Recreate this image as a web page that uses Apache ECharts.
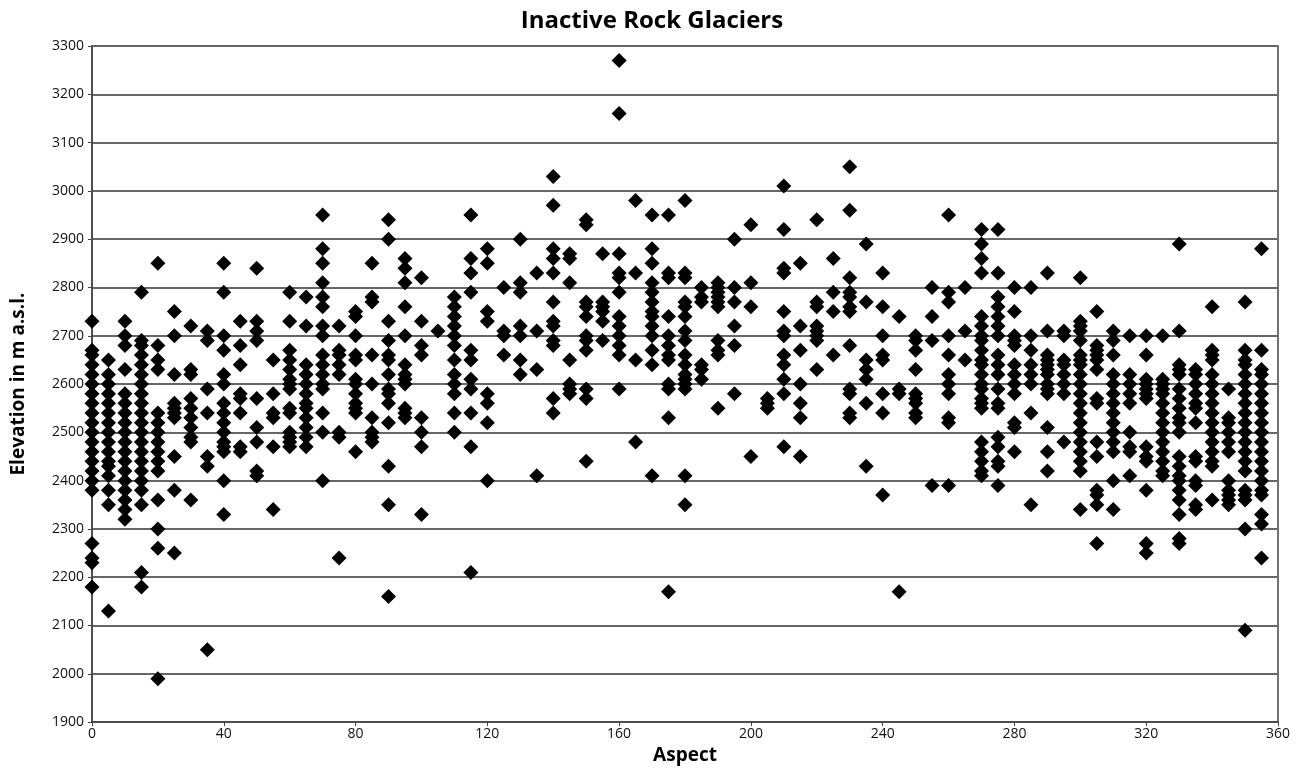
<!DOCTYPE html>
<html>
<head>
<meta charset="utf-8">
<script src="https://cdn.jsdelivr.net/npm/echarts@6/dist/echarts.min.js"></script>
<style>
  html, body { margin: 0; padding: 0; background: #fff; }
  #chart { width: 1304px; height: 770px; }
</style>
</head>
<body>
<div id="chart"></div>
<script>
const aspects = [0, 5, 10, 15, 20, 25, 30, 35, 40, 45, 50, 55, 60, 65, 70, 75, 80, 85, 90, 95,
  100, 105, 110, 115, 120, 125, 130, 135, 140, 145, 150, 155, 160, 165, 170, 175, 180, 185, 190, 195,
  200, 205, 210, 215, 220, 225, 230, 235, 240, 245, 250, 255, 260, 265, 270, 275, 280, 285, 290, 295,
  300, 305, 310, 315, 320, 325, 330, 335, 340, 345, 350, 355];

const elevations = [
  [2730, 2670, 2660, 2640, 2620, 2600, 2580, 2560, 2540, 2520, 2500, 2480, 2460, 2440, 2420, 2400, 2380, 2270, 2240, 2230, 2180],
  [2650, 2620, 2600, 2580, 2560, 2540, 2520, 2500, 2480, 2460, 2440, 2430, 2410, 2380, 2350, 2130],
  [2730, 2700, 2680, 2630, 2580, 2560, 2540, 2520, 2500, 2480, 2460, 2440, 2420, 2400, 2380, 2360, 2340, 2320],
  [2790, 2690, 2680, 2660, 2640, 2620, 2600, 2580, 2560, 2540, 2520, 2500, 2480, 2460, 2440, 2420, 2400, 2380, 2350, 2210, 2180],
  [2850, 2680, 2650, 2630, 2540, 2520, 2500, 2480, 2460, 2440, 2420, 2360, 2300, 2260, 1990],
  [2750, 2700, 2620, 2560, 2550, 2540, 2530, 2450, 2380, 2250],
  [2720, 2630, 2620, 2570, 2550, 2530, 2510, 2490, 2480, 2360],
  [2710, 2690, 2590, 2540, 2450, 2430, 2050],
  [2850, 2790, 2700, 2670, 2620, 2600, 2560, 2540, 2520, 2500, 2480, 2470, 2460, 2400, 2330],
  [2730, 2680, 2640, 2580, 2570, 2540, 2470, 2460],
  [2840, 2730, 2710, 2690, 2570, 2510, 2480, 2420, 2410],
  [2650, 2580, 2540, 2530, 2470, 2340],
  [2790, 2730, 2670, 2650, 2630, 2610, 2600, 2590, 2550, 2540, 2500, 2490, 2480, 2470],
  [2780, 2720, 2640, 2620, 2600, 2580, 2560, 2550, 2530, 2510, 2490, 2470],
  [2950, 2880, 2850, 2810, 2780, 2760, 2720, 2700, 2660, 2640, 2620, 2600, 2590, 2540, 2500, 2400],
  [2720, 2670, 2660, 2640, 2620, 2500, 2490, 2240],
  [2750, 2740, 2700, 2660, 2650, 2610, 2600, 2580, 2560, 2550, 2540, 2460],
  [2850, 2780, 2770, 2660, 2600, 2530, 2500, 2490, 2480],
  [2940, 2900, 2730, 2690, 2660, 2650, 2620, 2590, 2580, 2560, 2520, 2430, 2350, 2160],
  [2860, 2840, 2810, 2760, 2700, 2640, 2620, 2610, 2600, 2550, 2540, 2530],
  [2820, 2730, 2680, 2660, 2530, 2500, 2470, 2330],
  [2710],
  [2780, 2760, 2740, 2720, 2700, 2680, 2650, 2620, 2600, 2580, 2540, 2500],
  [2950, 2860, 2830, 2790, 2670, 2650, 2610, 2590, 2540, 2470, 2210],
  [2880, 2850, 2750, 2730, 2580, 2560, 2520, 2400],
  [2800, 2710, 2700, 2660],
  [2900, 2810, 2790, 2720, 2700, 2650, 2620],
  [2830, 2710, 2630, 2410],
  [3030, 2970, 2880, 2860, 2830, 2770, 2730, 2720, 2690, 2680, 2570, 2540],
  [2870, 2860, 2810, 2650, 2600, 2590, 2580],
  [2940, 2930, 2770, 2760, 2740, 2700, 2690, 2670, 2590, 2570, 2440],
  [2870, 2770, 2760, 2750, 2730, 2690],
  [3270, 3160, 2870, 2830, 2820, 2790, 2740, 2720, 2700, 2680, 2660, 2590],
  [2980, 2830, 2650, 2480],
  [2950, 2880, 2850, 2810, 2790, 2770, 2750, 2740, 2720, 2700, 2670, 2640, 2410],
  [2950, 2830, 2820, 2740, 2700, 2680, 2660, 2650, 2600, 2590, 2530, 2170],
  [2980, 2830, 2820, 2770, 2760, 2740, 2710, 2690, 2660, 2640, 2620, 2610, 2600, 2590, 2410, 2350],
  [2800, 2780, 2770, 2640, 2630, 2610],
  [2810, 2800, 2790, 2780, 2770, 2760, 2690, 2670, 2660, 2550],
  [2900, 2800, 2770, 2720, 2680, 2580],
  [2930, 2810, 2760, 2450],
  [2570, 2560, 2550],
  [3010, 2920, 2840, 2830, 2750, 2710, 2700, 2660, 2640, 2610, 2580, 2470],
  [2850, 2720, 2670, 2600, 2560, 2530, 2450],
  [2940, 2770, 2760, 2720, 2710, 2700, 2690, 2630],
  [2860, 2790, 2750, 2660],
  [3050, 2960, 2820, 2790, 2780, 2760, 2750, 2680, 2590, 2580, 2540, 2530],
  [2890, 2770, 2650, 2630, 2610, 2560, 2430],
  [2830, 2760, 2700, 2660, 2650, 2580, 2540, 2370],
  [2740, 2590, 2580, 2170],
  [2700, 2690, 2670, 2630, 2580, 2570, 2560, 2540, 2530],
  [2800, 2740, 2690, 2390],
  [2950, 2790, 2770, 2700, 2660, 2620, 2600, 2580, 2530, 2520, 2390],
  [2800, 2710, 2650],
  [2920, 2890, 2860, 2830, 2740, 2720, 2700, 2690, 2670, 2650, 2640, 2620, 2600, 2590, 2570, 2560, 2550, 2480, 2460, 2440, 2420, 2410],
  [2920, 2830, 2780, 2760, 2740, 2720, 2700, 2660, 2640, 2620, 2590, 2560, 2550, 2490, 2470, 2440, 2430, 2390],
  [2800, 2750, 2700, 2690, 2680, 2640, 2620, 2600, 2580, 2520, 2510, 2460],
  [2800, 2700, 2670, 2640, 2620, 2600, 2540, 2350],
  [2830, 2710, 2660, 2650, 2640, 2630, 2620, 2600, 2590, 2580, 2510, 2460, 2420],
  [2710, 2700, 2650, 2640, 2620, 2600, 2580, 2480],
  [2820, 2730, 2720, 2710, 2690, 2660, 2650, 2640, 2620, 2600, 2580, 2560, 2540, 2520, 2500, 2480, 2460, 2440, 2420, 2340],
  [2750, 2680, 2670, 2660, 2650, 2630, 2570, 2560, 2480, 2450, 2380, 2370, 2350, 2270],
  [2710, 2690, 2660, 2620, 2600, 2580, 2560, 2540, 2520, 2500, 2480, 2460, 2400, 2340],
  [2700, 2620, 2600, 2580, 2560, 2500, 2470, 2460, 2410],
  [2700, 2660, 2610, 2600, 2590, 2580, 2570, 2470, 2450, 2440, 2380, 2270, 2250],
  [2700, 2610, 2600, 2590, 2580, 2560, 2540, 2520, 2500, 2480, 2460, 2440, 2420, 2410],
  [2890, 2710, 2640, 2630, 2620, 2590, 2570, 2550, 2530, 2520, 2500, 2450, 2430, 2410, 2400, 2380, 2360, 2330, 2280, 2270],
  [2630, 2620, 2600, 2580, 2560, 2550, 2520, 2450, 2440, 2400, 2390, 2350, 2340],
  [2760, 2670, 2660, 2650, 2620, 2600, 2580, 2560, 2540, 2520, 2500, 2480, 2460, 2440, 2430, 2360],
  [2590, 2530, 2520, 2500, 2480, 2460, 2400, 2380, 2370, 2360, 2350],
  [2770, 2670, 2650, 2640, 2620, 2600, 2580, 2560, 2540, 2520, 2500, 2480, 2460, 2440, 2420, 2380, 2370, 2360, 2300, 2090],
  [2880, 2670, 2630, 2620, 2600, 2580, 2560, 2540, 2520, 2500, 2480, 2460, 2440, 2420, 2400, 2380, 2370, 2330, 2310, 2240]
];

const xTicks = { min: 0, max: 360, interval: 40 };
const yTicks = { min: 1900, max: 3300, interval: 100 };

const points = [];
aspects.forEach((a, i) => {
    elevations[i].forEach(e => points.push([a, e]));
});

const chart = echarts.init(document.getElementById('chart'), null, { renderer: 'canvas' });

const font = '"Open Sans", "Liberation Sans", sans-serif';

const option = {
    backgroundColor: '#ffffff',
    animation: false,
    title: {
        text: 'Inactive Rock Glaciers',
        left: 'center',
        top: 4,
        textStyle: { fontFamily: font, fontSize: 24, fontWeight: 'bold', color: '#000' }
    },
    grid: {
        left: 92, right: 26, top: 46, bottom: 46,
        show: true, borderColor: '#444', borderWidth: 1.5
    },
    xAxis: {
        type: 'value',
        min: xTicks.min, max: xTicks.max, interval: xTicks.interval,
        name: 'Aspect',
        nameLocation: 'middle',
        nameGap: 21,
        nameTextStyle: { fontFamily: font, fontSize: 19, fontWeight: 'bold', color: '#000' },
        axisLine: { lineStyle: { color: '#444', width: 1.5 } },
        axisTick: { show: true, length: 4, lineStyle: { color: '#444' } },
        axisLabel: { fontFamily: font, fontSize: 14, color: '#111', margin: 5 },
        splitLine: { show: false }
    },
    yAxis: {
        type: 'value',
        min: yTicks.min, max: yTicks.max, interval: yTicks.interval,
        name: 'Elevation in m a.s.l.',
        nameLocation: 'middle',
        nameGap: 64,
        nameTextStyle: { fontFamily: font, fontSize: 19, fontWeight: 'bold', color: '#000' },
        axisLine: { show: true, lineStyle: { color: '#444', width: 1.5 } },
        axisTick: { show: true, length: 4, lineStyle: { color: '#444' } },
        axisLabel: { fontFamily: font, fontSize: 14, color: '#111', margin: 8, formatter: v => String(v) },
        splitLine: { show: true, lineStyle: { color: '#666', width: 2 } }
    },
    series: [{
        type: 'scatter',
        symbol: 'diamond',
        symbolSize: 15,
        itemStyle: { color: '#000', opacity: 1 },
        data: points
    }]
};

chart.setOption(option);
</script>
</body>
</html>
